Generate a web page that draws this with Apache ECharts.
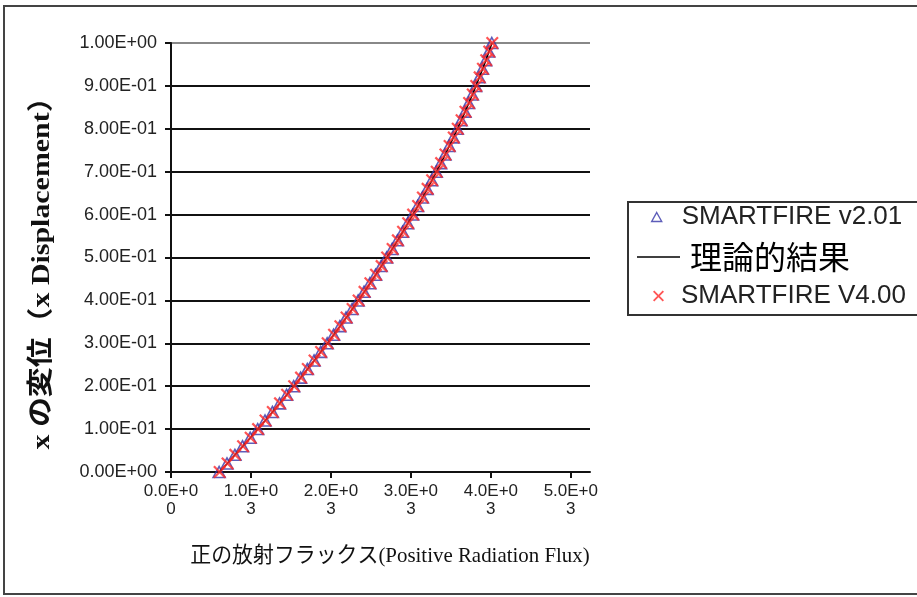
<!DOCTYPE html>
<html>
<head>
<meta charset="utf-8">
<script src="https://cdn.jsdelivr.net/npm/echarts@6/dist/echarts.min.js"></script>
<style>
  html, body { margin: 0; padding: 0; background: #ffffff; }
  #chart { width: 917px; height: 597px; }
</style>
</head>
<body>
<div id="chart"></div>
<script>
// x displacement (vertical axis), shared by all three series
const displacement = [
  0.00, 0.02, 0.04, 0.06, 0.08, 0.10, 0.12, 0.14, 0.16, 0.18,
  0.20, 0.22, 0.24, 0.26, 0.28, 0.30, 0.32, 0.34, 0.36, 0.38,
  0.40, 0.42, 0.44, 0.46, 0.48, 0.50, 0.52, 0.54, 0.56, 0.58,
  0.60, 0.62, 0.64, 0.66, 0.68, 0.70, 0.72, 0.74, 0.76, 0.78,
  0.80, 0.82, 0.84, 0.86, 0.88, 0.90, 0.92, 0.94, 0.96, 0.98, 1.00
];

// positive radiation flux, analytical solution
const theoryFlux = [
  605, 704, 801, 898, 993, 1086, 1179, 1270, 1360, 1449,
  1537, 1623, 1708, 1792, 1874, 1956, 2036, 2115, 2192, 2268,
  2343, 2417, 2490, 2561, 2631, 2700, 2768, 2834, 2899, 2963,
  3025, 3087, 3147, 3206, 3263, 3320, 3375, 3429, 3481, 3533,
  3583, 3631, 3679, 3725, 3771, 3814, 3857, 3898, 3939, 3977, 4015
];

// SMARTFIRE v2.01 result
const v201Flux = [
  602, 700, 799, 895, 990, 1084, 1176, 1268, 1357, 1446,
  1534, 1620, 1705, 1789, 1871, 1953, 2033, 2112, 2189, 2265,
  2340, 2414, 2487, 2558, 2628, 2697, 2765, 2831, 2896, 2960,
  3022, 3084, 3144, 3203, 3260, 3317, 3372, 3426, 3478, 3530,
  3580, 3628, 3676, 3722, 3768, 3811, 3854, 3895, 3936, 3974, 4012
];

// SMARTFIRE V4.00 result
const v400Flux = [
  608, 707, 804, 901, 996, 1089, 1182, 1273, 1363, 1452,
  1540, 1626, 1711, 1795, 1877, 1959, 2039, 2118, 2195, 2271,
  2346, 2420, 2493, 2564, 2634, 2703, 2771, 2837, 2902, 2966,
  3028, 3090, 3150, 3209, 3266, 3323, 3378, 3432, 3484, 3536,
  3586, 3634, 3682, 3728, 3774, 3817, 3860, 3901, 3942, 3980, 4018
];

const xTickLabels = ['0.0E+0\n0', '1.0E+0\n3', '2.0E+0\n3', '3.0E+0\n3', '4.0E+0\n3', '5.0E+0\n3'];
const yTickLabels = ['0.00E+00', '1.00E-01', '2.00E-01', '3.00E-01', '4.00E-01', '5.00E-01',
                     '6.00E-01', '7.00E-01', '8.00E-01', '9.00E-01', '1.00E+00'];
const seriesNames = ['SMARTFIRE v2.01', '理論的結果', 'SMARTFIRE V4.00'];
const xTitle = '正の放射フラックス(Positive Radiation Flux)';
const yTitle = 'x の変位（x Displacement）';

const toPoints = (xs) => xs.map((x, i) => [x, displacement[i]]);

const TRIANGLE = 'path://M5,0L10,9L0,9Z';
const CROSS = 'path://M0,1.2L1.2,0L5,3.8L8.8,0L10,1.2L6.2,5L10,8.8L8.8,10L5,6.2L1.2,10L0,8.8L3.8,5Z';
const BLUE = '#3535a8';
const RED = '#ff2a2a';
const SANS = '"Liberation Sans", Arial, sans-serif';

const chart = echarts.init(document.getElementById('chart'), null, { renderer: 'canvas' });

const gridColors = ['#111', '#111', '#111', '#111', '#111', '#111', '#111', '#111', '#111', '#111', '#888'];

chart.setOption({
  animation: false,
  backgroundColor: '#ffffff',
  // the plotting frame runs a little past the last labelled tick
  grid: { left: 171, top: 43, right: 327, bottom: 125, containLabel: false },
  xAxis: {
    type: 'value', min: 0, max: 5240, interval: 1000,
    axisLine: { show: true, lineStyle: { color: '#111', width: 2 } },
    axisTick: { show: true, inside: false, length: 6, lineStyle: { color: '#111', width: 2 } },
    splitLine: { show: false },
    axisLabel: {
      margin: 10, showMaxLabel: false,
      fontFamily: SANS, fontSize: 17, color: '#222', lineHeight: 18,
      formatter: (v) => (v % 1000 === 0 ? xTickLabels[v / 1000] : '')
    }
  },
  yAxis: {
    type: 'value', min: 0, max: 1, interval: 0.1,
    axisLine: { show: true, lineStyle: { color: '#111', width: 2 } },
    axisTick: { show: true, inside: false, length: 6, lineStyle: { color: '#111', width: 2 } },
    splitLine: { show: true, lineStyle: { color: gridColors, width: 2 } },
    axisLabel: {
      margin: 14,
      fontFamily: SANS, fontSize: 18, color: '#222',
      formatter: (v) => yTickLabels[Math.round(v * 10)]
    }
  },
  legend: [
    {
      data: [{ name: seriesNames[0], icon: TRIANGLE }],
      left: 651, top: 204, padding: 0, selectedMode: false,
      itemWidth: 10, itemHeight: 9,
      itemStyle: { color: 'rgba(0,0,0,0)', borderColor: BLUE, borderWidth: 1.4 },
      textStyle: { fontFamily: SANS, fontSize: 26, color: '#222', padding: [0, 0, 0, 15] }
    },
    {
      data: [{ name: seriesNames[1], icon: 'rect' }],
      left: 637, top: 241, padding: 0, selectedMode: false,
      itemWidth: 43, itemHeight: 1.5,
      itemStyle: { color: '#000' },
      textStyle: { fontFamily: '"Noto Sans CJK JP", sans-serif', fontSize: 32, color: '#000', padding: [0, 0, 0, 5] }
    },
    {
      data: [{ name: seriesNames[2], icon: CROSS }],
      left: 653, top: 283, padding: 0, selectedMode: false,
      itemWidth: 11, itemHeight: 11,
      textStyle: { fontFamily: SANS, fontSize: 26, color: '#222', padding: [0, 0, 0, 12] }
    }
  ],
  series: [
    {
      name: seriesNames[0], type: 'scatter', data: toPoints(v201Flux),
      symbol: TRIANGLE, symbolSize: [12, 11], z: 2,
      itemStyle: { color: 'rgba(0,0,0,0)', borderColor: BLUE, borderWidth: 1.6 }
    },
    {
      name: seriesNames[1], type: 'line', data: toPoints(theoryFlux),
      symbol: 'none', showSymbol: false, z: 3,
      lineStyle: { color: '#000', width: 1.5 }, itemStyle: { color: '#000' }
    },
    {
      name: seriesNames[2], type: 'scatter', data: toPoints(v400Flux),
      symbol: CROSS, symbolSize: 13, z: 4,
      itemStyle: { color: RED }
    }
  ],
  graphic: [
    {
      type: 'rect', silent: true, z: 0,
      shape: { x: 4, y: 6, width: 930, height: 588 },
      style: { fill: 'none', stroke: '#444', lineWidth: 2 }
    },
    {
      type: 'rect', silent: true,
      shape: { x: 628, y: 202, width: 300, height: 113 },
      style: { fill: 'none', stroke: '#333', lineWidth: 2 }
    },
    {
      type: 'text', silent: true, x: 42, y: 266, rotation: Math.PI / 2, scaleX: 1.15,
      style: {
        text: yTitle, fill: '#111', align: 'center', verticalAlign: 'middle',
        font: 'bold 26px "Liberation Serif", "Noto Sans CJK JP", serif'
      }
    },
    {
      type: 'text', silent: true, x: 390, y: 556, scaleX: 0.95,
      style: {
        text: xTitle, fill: '#111', align: 'center', verticalAlign: 'middle',
        font: '22px "Liberation Serif", "Noto Sans CJK JP", serif'
      }
    }
  ]
});
</script>
</body>
</html>
